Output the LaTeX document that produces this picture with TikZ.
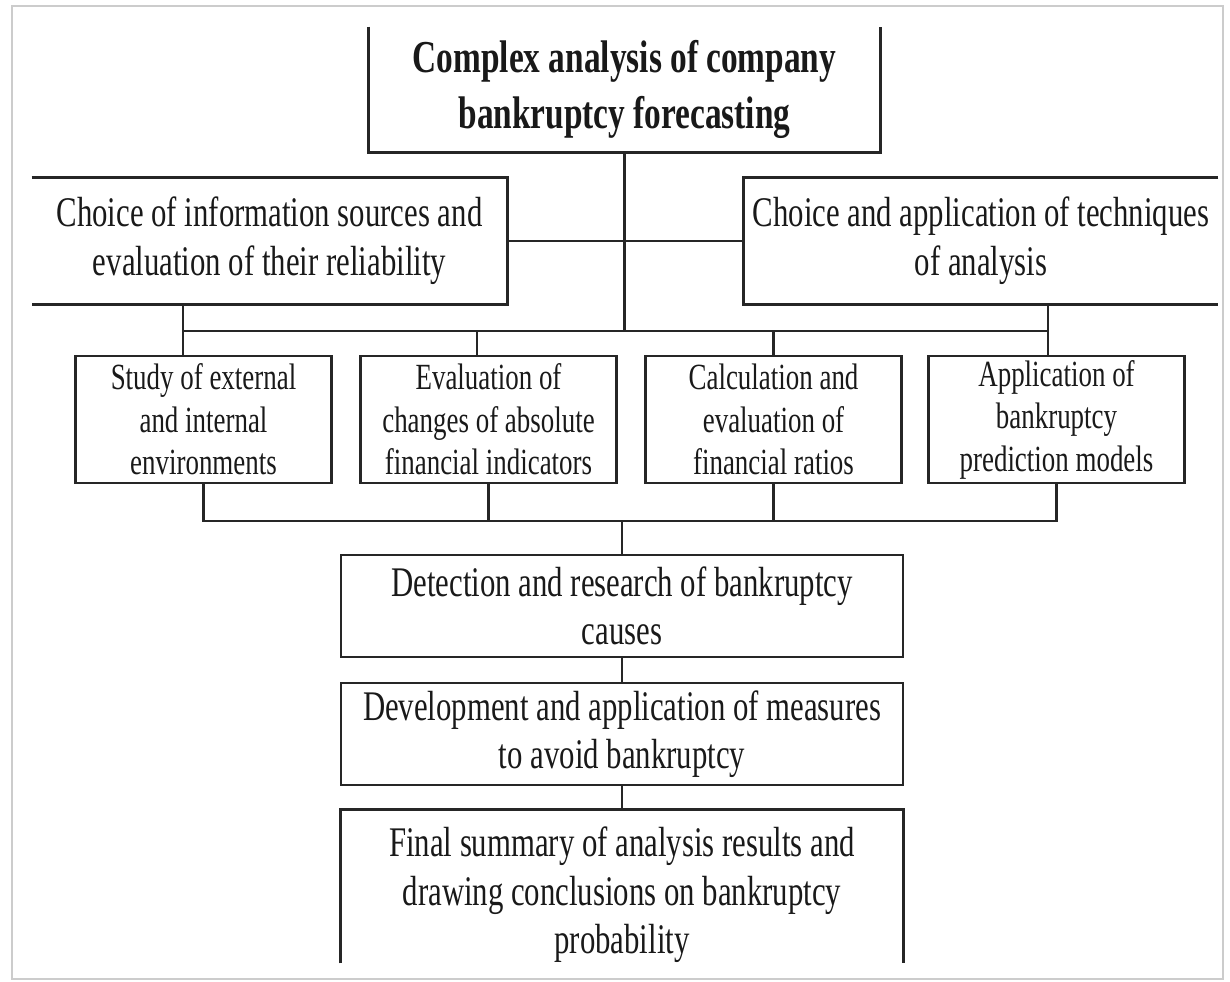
\documentclass[tikz,border=0pt]{standalone}
\usepackage{fontspec}
\setmainfont[FakeStretch=0.73]{Liberation Serif}
\usepackage{tikz}
\usetikzlibrary{positioning}

\tikzset{
	ln/.style={line width=1.5pt, draw=black!85},
	blk/.style={inner sep=0pt, align=center, text=black!90},
	box/.style={blk, ln, draw},
	bigtxt/.style={font=\fontsize{24}{27.9}\selectfont},
	midtxt/.style={font=\fontsize{21}{24.2}\selectfont, minimum width=5.12cm, minimum height=2.54cm},
	lowtxt/.style={font=\fontsize{24}{27.6}\selectfont, minimum width=11.24cm},
}

\begin{document}
\begin{tikzpicture}[x=0.02cm, y=-0.02cm]
				\useasboundingbox (0,0) rectangle (1230,982);
				\draw[gray!40, line width=0.8pt] (12,6) rectangle (1223,979);

				\node[blk, font=\bfseries\fontsize{26}{32.4}\selectfont, minimum width=10.22cm, minimum height=2.5cm] (top) at (624.5,89.5)
					{Complex analysis of company\\bankruptcy forecasting};
				\node[blk, bigtxt, minimum width=9.5cm, minimum height=2.52cm] (src) at (269.5,241)
					{Choice of information sources and\\evaluation of their reliability};
				\node[blk, bigtxt, minimum width=9.48cm, minimum height=2.52cm] (tech) at (981,241)
					{Choice and application of techniques\\of analysis};

				\node[box, midtxt] (m1) at (203.5,419.5) {Study of external\\and internal\\environments};
				\node[box, midtxt] (m2) at (488.5,419.5) {Evaluation of\\changes of absolute\\financial indicators};
				\node[box, midtxt] (m3) at (773.5,419.5) {Calculation and\\evaluation of\\financial ratios};
				\node[box, midtxt] (m4) at (1056.5,419.5) {Application of\\bankruptcy\\prediction models};

				\node[box, lowtxt, minimum height=2.04cm] (det) at (622,606) {Detection and research of bankruptcy\\causes};
				\node[box, lowtxt, minimum height=2.04cm] (dev) at (622,734) {Development and application of measures\\to avoid bankruptcy};
				\node[blk, lowtxt, minimum height=3.06cm] (fin) at (622,886.5) {};
				\node[blk, lowtxt] (finlbl) at (622,895)
					{Final summary of analysis results and\\drawing conclusions on bankruptcy\\probability};

				% boxes cut by the page edge
				\draw[ln] (top.north west) -- (top.south west) -- (top.south east) -- (top.north east);
				\draw[ln] (src.north west) -- (src.north east) -- (src.south east) -- (src.south west);
				\draw[ln] (tech.north east) -- (tech.north west) -- (tech.south west) -- (tech.south east);
				\draw[ln] (fin.south west) -- (fin.north west) -- (fin.north east) -- (fin.south east);

				\coordinate (busL) at (183,331);
				\coordinate (busR) at (1048,331);
				\coordinate (drop2) at (477,331);
				\coordinate (busB) at (622,521);

				\draw[ln] (src.east) -- (tech.west);
				\draw[ln] (top.south) -- (top.south |- busL);
				\draw[ln] (busL) -- (busR);
				\draw[ln] (src.south -| busL) -- (m1.north -| busL);
				\draw[ln] (tech.south -| busR) -- (m4.north -| busR);
				\draw[ln] (drop2) -- (m2.north -| drop2);
				\draw[ln] (m3.north |- busL) -- (m3.north);

				\draw[ln] (m1.south) |- (busB) -| (m4.south);
				\foreach \m in {m2,m3} {
					\draw[ln] (\m.south) -- (\m.south |- busB);
				};
				\draw[ln] (busB) -- (det.north);
				\draw[ln] (det.south) -- (dev.north);
				\draw[ln] (dev.south) -- (fin.north);
			\end{tikzpicture}
\end{document}
